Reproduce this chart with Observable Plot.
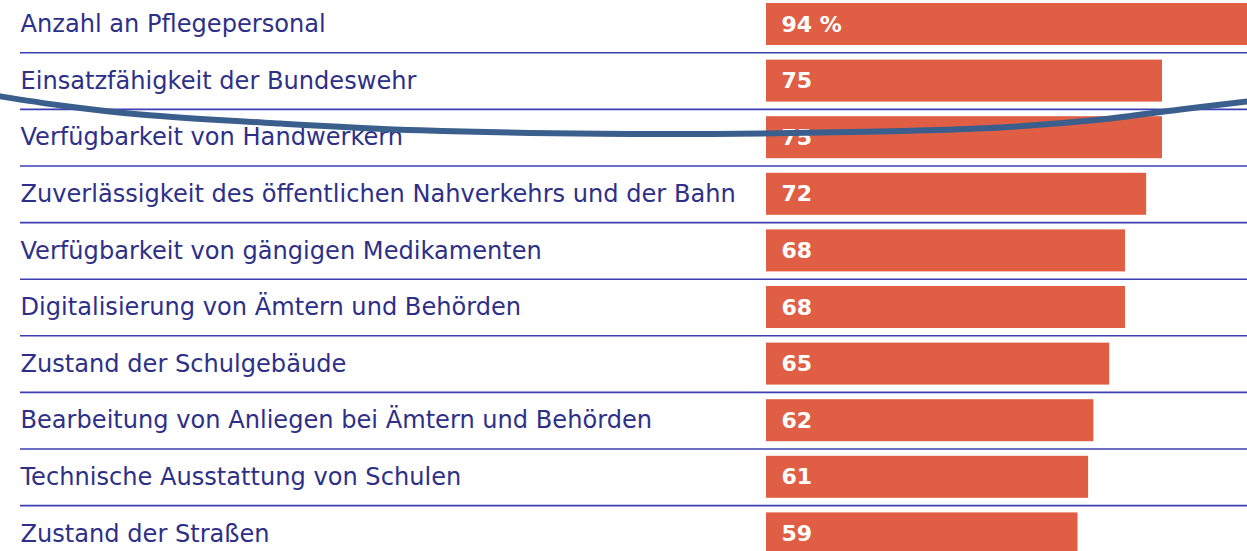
<!DOCTYPE html>
<html>
<head>
<meta charset="utf-8">
<script src="https://cdn.jsdelivr.net/npm/d3@7"></script>
<script src="https://cdn.jsdelivr.net/npm/@observablehq/plot@0.6"></script>
<style>
  html, body { margin: 0; padding: 0; background: #ffffff; }
  #chart svg { display: block; }
</style>
</head>
<body>
<div id="chart"></div>
<script>
// ---- Data ----
const categories = [
  "Anzahl an Pflegepersonal",
  "Einsatzfähigkeit der Bundeswehr",
  "Verfügbarkeit von Handwerkern",
  "Zuverlässigkeit des öffentlichen Nahverkehrs und der Bahn",
  "Verfügbarkeit von gängigen Medikamenten",
  "Digitalisierung von Ämtern und Behörden",
  "Zustand der Schulgebäude",
  "Bearbeitung von Anliegen bei Ämtern und Behörden",
  "Technische Ausstattung von Schulen",
  "Zustand der Straßen"
];
const values = [94, 75, 75, 72, 68, 68, 65, 62, 61, 59];
const valueLabels = ["94 %", "75", "75", "72", "68", "68", "65", "62", "61", "59"];

// Hand-drawn swoosh overlay (x in value units, y in row units)
const swooshX   = [-145.1, -133.7, -118.6, -92.0, -65.5, -31.4, 10.2, 44.3, 63.3, 78.4, 91.1];
const swooshRow = [1.27, 1.43, 1.59, 1.75, 1.87, 1.93, 1.91, 1.82, 1.68, 1.50, 1.36];

// ---- Tables built from the arrays ----
const rows = categories.map((c, i) => ({i, category: c, value: values[i], label: valueLabels[i]}));
const separators = d3.range(categories.length - 1).map(i => i + 0.5);
const swoosh = swooshX.map((x, k) => ({x, y: swooshRow[k]}));

const W = 1247, H = 551;
const half = 0.371;

const chart = Plot.plot({
  width: W,
  height: H,
  marginLeft: 0,
  marginRight: 0,
  marginTop: 0,
  marginBottom: 0,
  style: {background: "#ffffff", fontFamily: "'DejaVu Sans', sans-serif"},
  x: {domain: [0, 75], range: [766, 1162], axis: null},
  y: {domain: [0, 9], range: [24, 533.4], axis: null},
  marks: [
    Plot.rectX(rows, {
      x1: 0, x2: "value",
      y1: d => d.i - half, y2: d => d.i + half,
      fill: "#e05f44"
    }),
    Plot.text(rows, {
      x: 0, y: "i", text: "label",
      dx: 15, textAnchor: "start",
      fill: "#ffffff", fontWeight: "bold", fontSize: 22
    }),
    Plot.ruleY(separators, {
      y: d => d, insetLeft: 20,
      stroke: "#3d3fb2", strokeWidth: 1.6
    }),
    Plot.text(rows, {
      y: "i", text: "category",
      frameAnchor: "left", dx: 20, textAnchor: "start",
      fill: "#2e3088", fontSize: 24.1
    }),
    Plot.line(swoosh, {
      x: "x", y: "y", curve: "catmull-rom",
      stroke: "#3a5f8c", strokeWidth: 6
    })
  ]
});

document.getElementById("chart").appendChild(chart);
</script>
</body>
</html>
